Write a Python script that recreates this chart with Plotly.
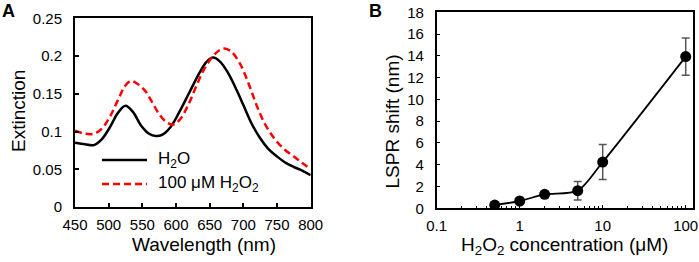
import plotly.graph_objects as go

# Panel A: extinction spectra
wl_h2o = [450, 465, 478, 490, 502, 514, 525, 536, 548, 560, 570, 580, 592, 605, 620, 635, 645, 655, 665, 677, 690, 700, 712, 725, 737, 750, 762, 775, 788, 800]
ext_h2o = [0.085, 0.083, 0.082, 0.090, 0.106, 0.125, 0.134, 0.126, 0.108, 0.097, 0.094, 0.096, 0.106, 0.126, 0.152, 0.178, 0.192, 0.198, 0.193, 0.178, 0.155, 0.135, 0.111, 0.091, 0.077, 0.067, 0.059, 0.053, 0.048, 0.042]
wl_h2o2 = [450, 465, 478, 490, 502, 514, 524, 533, 543, 555, 565, 575, 585, 595, 605, 618, 630, 642, 655, 665, 672, 682, 695, 708, 720, 732, 745, 760, 775, 788, 800]
ext_h2o2 = [0.101, 0.097, 0.097, 0.104, 0.120, 0.142, 0.160, 0.167, 0.163, 0.153, 0.138, 0.123, 0.113, 0.109, 0.115, 0.135, 0.160, 0.183, 0.200, 0.208, 0.210, 0.206, 0.190, 0.163, 0.134, 0.110, 0.092, 0.077, 0.067, 0.058, 0.050]
series_names = ["H<sub>2</sub>O", "100 \u03bcM H<sub>2</sub>O<sub>2</sub>"]

# Panel B: LSPR shift vs concentration
conc = [0.5, 1, 2, 5, 10, 100]
shift = [0.30, 0.67, 1.28, 1.62, 4.25, 13.93]
shift_err = [0.10, 0.12, 0.22, 0.85, 1.60, 1.72]

W, H = 699, 262
def px(x): return x / W
def py(y): return 1 - y / H

FONT = "Liberation Sans, Arial, sans-serif"
RED_DASH = "7px,4px"

fig = go.Figure()
fig.add_trace(go.Scatter(x=wl_h2o, y=ext_h2o, mode="lines", name=series_names[0], showlegend=False,
                         line=dict(color="black", width=2.5, shape="spline", smoothing=1.0),
                         xaxis="x", yaxis="y"))
fig.add_trace(go.Scatter(x=wl_h2o2, y=ext_h2o2, mode="lines", name=series_names[1], showlegend=False,
                         line=dict(color="#ff0000", width=2.5, dash=RED_DASH, shape="spline", smoothing=1.0),
                         xaxis="x", yaxis="y"))
fig.add_trace(go.Scatter(x=conc, y=shift, mode="lines+markers", showlegend=False,
                         line=dict(color="black", width=1.8, shape="spline", smoothing=0.8),
                         marker=dict(color="black", size=11),
                         error_y=dict(type="data", array=shift_err, color="#555555", thickness=1.5, width=4),
                         xaxis="x2", yaxis="y2"))

axis_common = dict(showline=True, linecolor="black", mirror=True, showgrid=False, zeroline=False,
                   automargin=False,
                   ticks="inside", tickcolor="black", tickfont=dict(family=FONT, size=15, color="black"))

fig.update_layout(
    width=W, height=H, margin=dict(l=0, r=0, t=0, b=0, autoexpand=False),
    paper_bgcolor="white", plot_bgcolor="white",
    font=dict(family=FONT, color="black"),
    showlegend=False,
    xaxis=dict(domain=[px(75), px(310.7)], anchor="y", range=[450, 800], dtick=50, tick0=450,
               linewidth=2, ticklen=4, tickwidth=1.5, ticklabelstandoff=3, **axis_common),
    yaxis=dict(domain=[py(207), py(18.3)], anchor="x", range=[0, 0.25], dtick=0.05,
               linewidth=2, ticklen=4, tickwidth=1.5, ticklabelstandoff=8, **axis_common),
    xaxis2=dict(domain=[px(436.7), px(693)], anchor="y2", type="log", range=[-1, 2.088], dtick=1,
                linewidth=1.5, ticklen=4, tickwidth=1.2, ticklabelstandoff=3,
                minor=dict(ticks="inside", ticklen=3, tickwidth=1, tickcolor="black", dtick="D1", showgrid=False),
                **axis_common),
    yaxis2=dict(domain=[py(208.3), py(12.3)], anchor="x2", range=[0, 18], dtick=2,
                linewidth=1.5, ticklen=4, tickwidth=1.2, ticklabelstandoff=8, **axis_common),
)

# legend (panel A), drawn as keys + labels in paper space
legend_rows = [(160, dict(color="black", width=2.5, dash="solid")),
               (184, dict(color="#ff0000", width=2.5, dash=RED_DASH))]
for (ly, lstyle), name in zip(legend_rows, series_names):
    fig.add_shape(type="line", xref="paper", yref="paper", x0=px(102), x1=px(147), y0=py(ly), y1=py(ly),
                  line=lstyle)
    fig.add_annotation(text=name, x=px(156), y=py(ly), xref="paper", yref="paper", xanchor="left",
                       yanchor="middle", showarrow=False, font=dict(family=FONT, size=17, color="black"))

annots = [
    dict(text="<b>A</b>", x=px(8.5), y=py(11.5), size=18, angle=0),
    dict(text="<b>B</b>", x=px(375.5), y=py(10.5), size=18, angle=0),
    dict(text="Extinction", x=px(18), y=py(111), size=19, angle=-90),
    dict(text="Wavelength (nm)", x=px(204), y=py(244), size=19, angle=0),
    dict(text="LSPR shift (nm)", x=px(391.5), y=py(122), size=19, angle=-90),
    dict(text="H<sub>2</sub>O<sub>2</sub> concentration (\u03bcM)", x=px(564), y=py(246), size=19, angle=0),
]
for a in annots:
    fig.add_annotation(text=a["text"], x=a["x"], y=a["y"], xref="paper", yref="paper",
                       xanchor="center", yanchor="middle", showarrow=False, textangle=a["angle"],
                       font=dict(family=FONT, size=a["size"], color="black"))

fig.write_html("out.html", config={"displayModeBar": False},
               post_script="document.body.style.margin='0';")
